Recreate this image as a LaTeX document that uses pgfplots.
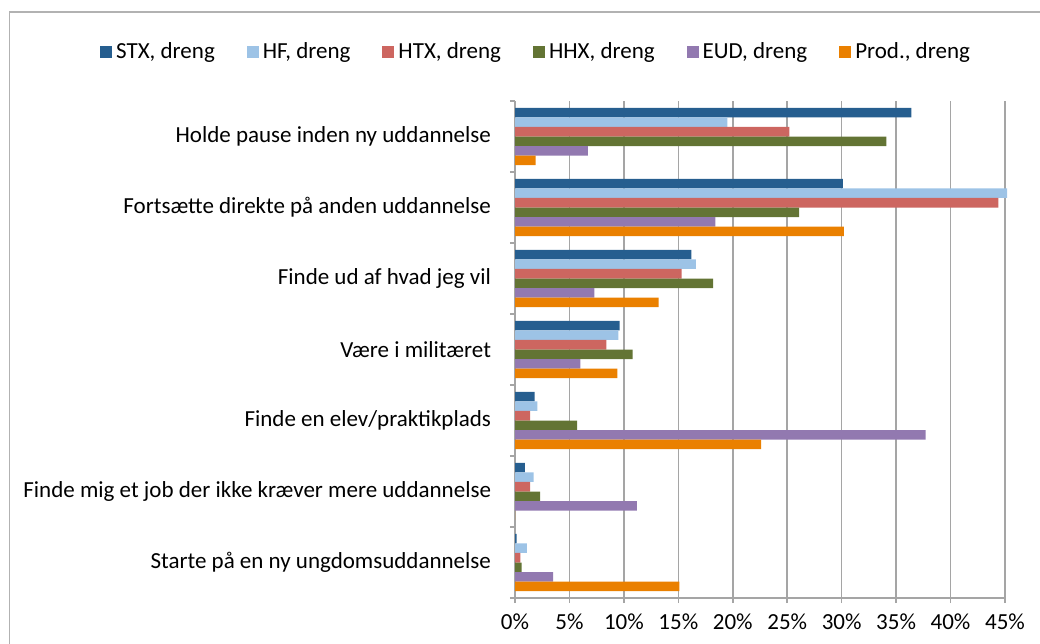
\documentclass[border=0pt]{standalone}
\usepackage{pgfplots}
\pgfplotsset{compat=1.18}
\usepackage{pgfplotstable}
\usepackage{fontspec}
\setmainfont{Carlito}

\definecolor{cstx}{RGB}{38,94,143}
\definecolor{chf}{RGB}{157,195,230}
\definecolor{chtx}{RGB}{205,102,96}
\definecolor{chhx}{RGB}{99,116,52}
\definecolor{ceud}{RGB}{146,121,176}
\definecolor{cprod}{RGB}{234,128,0}
\definecolor{gridgray}{RGB}{165,165,165}
\definecolor{framegray}{RGB}{178,178,178}

% y: 6 = top category, 0 = bottom category
\pgfplotstableread{
y stx hf htx hhx eud prod
6 36.4 19.5 25.2 34.1 6.7 1.9
5 30.1 45.2 44.4 26.1 18.4 30.2
4 16.2 16.6 15.3 18.2 7.3 13.2
3 9.6 9.5 8.4 10.8 6.0 9.4
2 1.8 2.05 1.4 5.7 37.7 22.6
1 0.9 1.7 1.4 2.3 11.2 0
0 0.16 1.1 0.5 0.6 3.5 15.1
}\data

\begin{document}
\begin{tikzpicture}[font=\fontsize{11.5bp}{13bp}\selectfont]
\useasboundingbox (0,0) rectangle (520bp,322bp);
\draw[framegray, line width=0.75bp] (4.75bp,0) -- (4.75bp,316bp) -- (520bp,316bp);
\begin{axis}[
    at={(257.5bp,23bp)}, anchor=south west,
    scale only axis, width=245bp, height=248.5bp,
    xbar, bar width=0.134,
    xmin=0, xmax=45, ymin=-0.5, ymax=6.5,
    clip=false,
    axis lines*=left,
    axis line style={gridgray, line width=0.75bp},
    tick align=outside, major tick length=2.5bp,
    tick style={gridgray, line width=0.75bp},
    xmajorgrids, grid style={gridgray, line width=0.75bp},
    xtick={0,5,...,45},
    xticklabel={\pgfmathprintnumber{\tick}\%},
    /pgf/number format/assume math mode=true,
    xticklabel style={yshift=-2bp},
    ytick={-0.5,0.5,...,6.5},
    yticklabels={Starte på en ny ungdomsuddannelse,
        Finde mig et job der ikke kræver mere uddannelse,
        Finde en elev/praktikplads,
        Være i militæret,
        Finde ud af hvad jeg vil,
        Fortsætte direkte på anden uddannelse,
        Holde pause inden ny uddannelse, {}},
    yticklabel style={yshift=17.75bp, xshift=-6bp},
    legend columns=6,
    legend style={at={(0.045,1.099)}, anchor=center, draw=none, fill=none,
        /tikz/every even column/.append style={column sep=14bp}},
    legend image code/.code={\fill[#1] (0bp,-3bp) rectangle (6bp,3bp);},
]
\addplot[fill=cstx, draw=none, bar shift=0.335] table[x=stx, y=y] {\data};
\addlegendentry{STX, dreng}
\addplot[fill=chf, draw=none, bar shift=0.201] table[x=hf, y=y] {\data};
\addlegendentry{HF, dreng}
\addplot[fill=chtx, draw=none, bar shift=0.067] table[x=htx, y=y] {\data};
\addlegendentry{HTX, dreng}
\addplot[fill=chhx, draw=none, bar shift=-0.067] table[x=hhx, y=y] {\data};
\addlegendentry{HHX, dreng}
\addplot[fill=ceud, draw=none, bar shift=-0.201] table[x=eud, y=y] {\data};
\addlegendentry{EUD, dreng}
\addplot[fill=cprod, draw=none, bar shift=-0.335] table[x=prod, y=y] {\data};
\addlegendentry{Prod., dreng}
\end{axis}
\end{tikzpicture}
\end{document}
